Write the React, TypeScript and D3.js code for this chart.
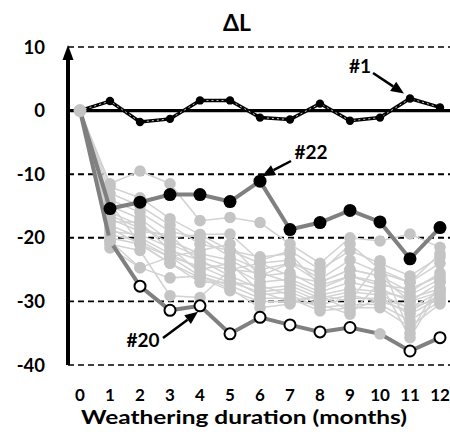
import React from "react";
import * as d3 from "d3";

const months = [0, 1, 2, 3, 4, 5, 6, 7, 8, 9, 10, 11, 12];
const yTicks = [10, 0, -10, -20, -30, -40];

const s1 = [0, 1.5, -1.8, -1.3, 1.6, 1.6, -1.1, -1.4, 1.1, -1.6, -1.1, 1.9, 0.5];
const s22 = [0, -15.4, -14.4, -13.2, -13.2, -14.3, -11.1, -18.7, -17.6, -15.7, -17.5, -23.3, -18.4];
const s20 = [0, -20.5, -27.6, -31.4, -30.7, -35.1, -32.5, -33.7, -34.8, -34.1, -35.1, -37.8, -35.7];
const s20Open = [false, false, true, true, true, true, true, true, true, true, false, true, true];

const grey = [
  [0, -11.5, -9.5, -11.5, -17.3, -16.8, -17.6, -21, -24, -20, -20.5, -19.4, -21.5],
  [0, -12, -13.7, -17, -19.5, -19.4, -23.6, -22, -25, -22, -24, -26, -23],
  [0, -13, -15, -18, -21, -22, -24, -23.5, -26.5, -23.5, -25.5, -27, -24],
  [0, -14, -16, -19, -20, -23, -25, -24, -27, -25, -26, -28.5, -25.5],
  [0, -15, -17, -20.5, -22.5, -23.5, -26, -25.5, -28, -26, -27, -29, -26.5],
  [0, -16, -18, -21, -23, -24.5, -27, -26.5, -28.5, -27, -28, -30, -27],
  [0, -17, -19, -19.5, -24, -25, -25.5, -27, -29, -28, -28.5, -29.5, -28],
  [0, -17.5, -17.5, -22, -23.5, -26, -28, -27.5, -29.5, -28.5, -29, -31, -28.5],
  [0, -18, -20, -22.5, -25, -24, -28.5, -28, -30, -29, -30, -31.5, -29],
  [0, -18.5, -21, -23, -24.5, -26.5, -29, -28.5, -30.5, -29.5, -29.5, -32, -29.5],
  [0, -19, -19.5, -21.5, -25.5, -27, -27.5, -29, -31, -30.5, -30.5, -33, -30],
  [0, -19.5, -20.5, -23, -26, -27.5, -29.5, -29.5, -31.5, -31, -31, -34, -30.4],
  [0, -20, -21, -24, -26.3, -28.3, -30, -30, -30.5, -32, -27, -35.7, -28],
  [0, -20.5, -24.7, -26.3, -26, -28, -31, -30.4, -29, -30, -23.6, -35, -27],
  [0, -21, -22, -29.1, -29.4, -25, -24, -26, -27, -25, -26, -30, -28.5],
  [0, -21.6, -24.7, -23, -22, -21, -26, -24, -25.5, -21, -25, -27, -22.5],
  [0, -16.5, -18.5, -20, -19.5, -22, -23, -22.5, -27.5, -26, -27.5, -28, -26],
  [0, -14.5, -21, -24, -27, -27, -28.5, -30, -29, -31.5, -29.5, -31, -29.5],
];

const W = 450;
const H = 435;

export default function App() {
  const x = d3.scaleLinear().domain([0, 12]).range([80, 440]);
  const y = d3.scaleLinear().domain([-40, 10]).range([365, 47]);
  const line = d3
    .line<number>()
    .x((_, i) => x(months[i]))
    .y((d) => y(d));

  const font = "Lato, 'Open Sans', sans-serif";
  const axisX = 68;

  const arrow = (x1: number, y1: number, x2: number, y2: number, key: string) => {
    const ang = Math.atan2(y2 - y1, x2 - x1);
    const len = 13;
    const wid = 5.5;
    const bx = x2 - len * Math.cos(ang);
    const by = y2 - len * Math.sin(ang);
    const px = -Math.sin(ang) * wid;
    const py = Math.cos(ang) * wid;
    return (
      <g key={key}>
        <line x1={x1} y1={y1} x2={bx} y2={by} stroke="#000" strokeWidth={2.5} />
        <polygon points={`${x2},${y2} ${bx + px},${by + py} ${bx - px},${by - py}`} fill="#000" />
      </g>
    );
  };

  return (
    <svg width={W} height={H} style={{ position: "absolute", left: 0, top: 0, background: "#fff" }}>
      <rect width={W} height={H} fill="#fff" />
      {/* title */}
      <text x={237} y={31} textAnchor="middle" fontFamily={font} fontWeight="bold" fontSize={23}>
        ΔL
      </text>
      {/* grid lines */}
      {yTicks
        .filter((t) => t !== 0)
        .map((t) => (
          <line
            key={t}
            x1={axisX}
            x2={W}
            y1={y(t)}
            y2={y(t)}
            stroke="#000"
            strokeWidth={t === -10 || t === -20 ? 2 : 1.6}
            strokeDasharray="6,4"
          />
        ))}
      {/* y tick labels */}
      {yTicks.map((t) => (
        <text
          key={"yl" + t}
          x={45}
          y={y(t) + 6.5}
          textAnchor="end"
          fontFamily={font}
          fontWeight="bold"
          fontSize={18.5}
        >
          {t}
        </text>
      ))}
      {/* grey series */}
      {grey.map((s, k) => (
        <path key={"gl" + k} d={line(s) || ""} fill="none" stroke="#d2d2d2" strokeWidth={1.5} />
      ))}
      {grey.map((s, k) =>
        s.map((v, i) =>
          i === 0 ? null : (
            <circle key={`gc${k}-${i}`} cx={x(months[i])} cy={y(v)} r={5.8} fill="#c4c4c4" />
          )
        )
      )}
      {/* zero line */}
      <line x1={axisX} x2={W} y1={y(0)} y2={y(0)} stroke="#000" strokeWidth={3.2} />
      {/* #1 */}
      <path d={line(s1) || ""} fill="none" stroke="#000" strokeWidth={3.5} />
      <path d={line(s1) || ""} fill="none" stroke="#fff" strokeWidth={0.8} strokeDasharray="2,3" />
      {s1.map((v, i) =>
        i === 0 ? null : <circle key={"s1" + i} cx={x(months[i])} cy={y(v)} r={4.2} fill="#000" />
      )}
      {/* #22 */}
      <path d={line(s22) || ""} fill="none" stroke="#808080" strokeWidth={4} />
      {/* #20 */}
      <path d={line(s20) || ""} fill="none" stroke="#808080" strokeWidth={4} />
      {s22.map((v, i) =>
        i === 0 ? null : <circle key={"s22" + i} cx={x(months[i])} cy={y(v)} r={6.5} fill="#000" />
      )}
      {s20.map((v, i) =>
        i === 0 ? null : s20Open[i] ? (
          <circle key={"s20" + i} cx={x(months[i])} cy={y(v)} r={5.5} fill="#fff" stroke="#000" strokeWidth={2} />
        ) : (
          <circle key={"s20" + i} cx={x(months[i])} cy={y(v)} r={5.8} fill="#c4c4c4" />
        )
      )}
      {/* origin point */}
      <circle cx={x(0)} cy={y(0)} r={6.5} fill="#c4c4c4" />
      {/* y axis with arrow */}
      <line x1={axisX} x2={axisX} y1={y(-40)} y2={y(10) + 8} stroke="#000" strokeWidth={4} />
      <polygon points={`${axisX},${y(10) - 2} ${axisX - 5.5},${y(10) + 13} ${axisX + 5.5},${y(10) + 13}`} fill="#000" />
      {/* annotations */}
      <text x={360} y={73} textAnchor="middle" fontFamily={font} fontWeight="bold" fontSize={19}>
        #1
      </text>
      {arrow(373, 73, x(11) - 6, y(s1[11]) - 5, "a1")}
      <text x={311} y={159} textAnchor="middle" fontFamily={font} fontWeight="bold" fontSize={19}>
        #22
      </text>
      {arrow(291, 161, x(6) + 2, y(s22[6]) - 5, "a22")}
      <text x={143} y={347} textAnchor="middle" fontFamily={font} fontWeight="bold" fontSize={19}>
        #20
      </text>
      {arrow(163, 338, x(4) - 2, y(s20[4]) + 6, "a20")}
      {/* x tick labels */}
      {months.map((m) => (
        <text
          key={"xl" + m}
          x={x(m)}
          y={401}
          textAnchor="middle"
          fontFamily={font}
          fontWeight="bold"
          fontSize={17}
        >
          {m}
        </text>
      ))}
      <text
        x={244}
        y={424}
        textAnchor="middle"
        fontFamily={font}
        fontWeight="bold"
        fontSize={19}
        textLength={326}
        lengthAdjust="spacingAndGlyphs"
      >
        Weathering duration (months)
      </text>
    </svg>
  );
}
